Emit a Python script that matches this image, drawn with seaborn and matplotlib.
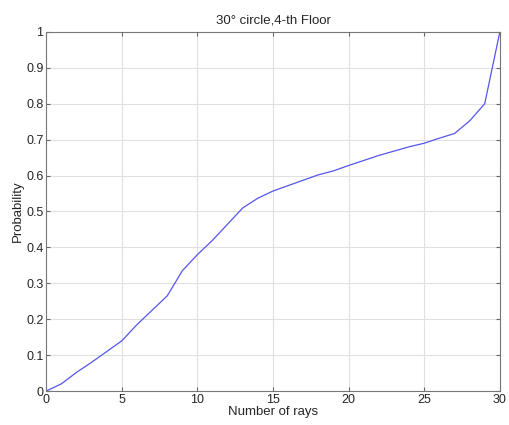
import matplotlib
matplotlib.use("Agg")
import matplotlib.pyplot as plt
import seaborn as sns
import pandas as pd

rays = list(range(0, 31))
prob = [0.0, 0.02, 0.052, 0.08, 0.11, 0.14, 0.185, 0.225, 0.265, 0.335,
        0.38, 0.42, 0.465, 0.51, 0.537, 0.557, 0.572, 0.587, 0.602, 0.613,
        0.628, 0.642, 0.656, 0.668, 0.68, 0.69, 0.704, 0.717, 0.752, 0.80, 1.0]
xticks = [0, 5, 10, 15, 20, 25, 30]
yticks = [0, 0.1, 0.2, 0.3, 0.4, 0.5, 0.6, 0.7, 0.8, 0.9, 1]
ytick_labels = ["0", "0.1", "0.2", "0.3", "0.4", "0.5", "0.6", "0.7", "0.8", "0.9", "1"]

sns.set_style("white")
plt.rcParams['font.family'] = ['Liberation Sans', 'DejaVu Sans']

df = pd.DataFrame({"rays": rays, "prob": prob})
fig = plt.figure(figsize=(5.09, 4.25), dpi=100)
ax = fig.add_axes([0.091, 0.08, 0.891, 0.845])
sns.lineplot(data=df, x="rays", y="prob", ax=ax, color="#5555ee", linewidth=0.9)
ax.set_xlim(0, 30)
ax.set_ylim(0, 1)
ax.set_xticks(xticks)
ax.set_xticklabels([str(t) for t in xticks])
ax.set_yticks(yticks)
ax.set_yticklabels(ytick_labels)
ax.grid(True, color="#e0e0e0", linewidth=0.8)
ax.tick_params(direction="in", length=3, labelsize=9, color="#666666", pad=2,
               top=True, right=True, bottom=True, left=True)
for s in ax.spines.values():
    s.set_color("#777777")
    s.set_linewidth(0.8)
ax.set_xlabel("Number of rays", fontsize=9.5, labelpad=0)
ax.set_ylabel("Probability", fontsize=9.5, labelpad=2)
ax.set_title("30° circle,4-th Floor", fontsize=9.5, pad=6)
fig.savefig("out.png", dpi=100)
